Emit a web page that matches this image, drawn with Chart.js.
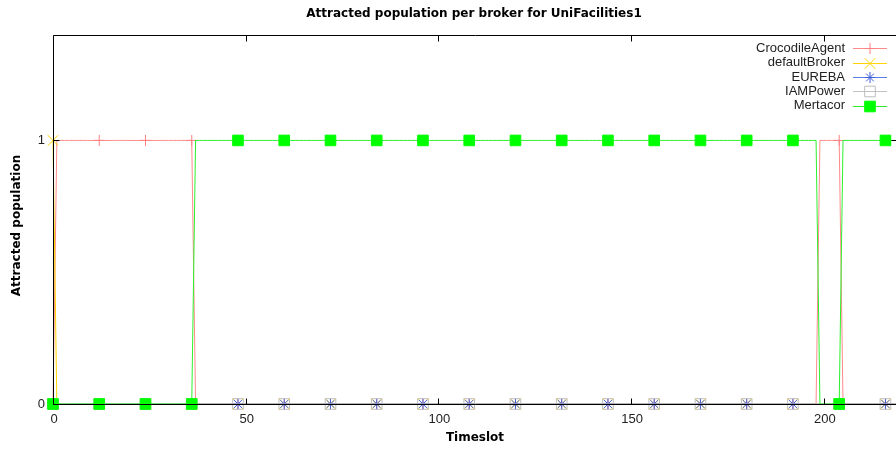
<!DOCTYPE html>
<html>
<head>
<meta charset="utf-8">
<script src="https://cdn.jsdelivr.net/npm/chart.js@4.4.1/dist/chart.umd.min.js"></script>
<style>
  html, body { margin: 0; padding: 0; background: #fff; overflow: hidden; width: 896px; height: 450px; }
  canvas { display: block; }
</style>
</head>
<body>
<canvas id="chart" width="948" height="450"></canvas>
<script>
// ---- text ----
const chartTitle = 'Attracted population per broker for UniFacilities1';
const xAxisTitle = 'Timeslot';
const yAxisTitle = 'Attracted population';

// ---- categories and ticks ----
const brokers = ['CrocodileAgent', 'defaultBroker', 'EUREBA', 'IAMPower', 'Mertacor'];
const xTickValues = [0, 50, 100, 150, 200];
const yTickValues = [0, 1];
const xMax = 219;
const yMax = 1.4;

// ---- attracted population per timeslot (timeslots 0..219), one digit per timeslot, ten per group ----
const crocodileAgent =
  '0111111111 1111111111 1111111111 1111111000 0000000000 0000000000 ' +
  '0000000000 0000000000 0000000000 0000000000 0000000000 0000000000 ' +
  '0000000000 0000000000 0000000000 0000000000 0000000000 0000000000 ' +
  '0000000000 0000000001 1111100000 0000000000';
const defaultBroker =
  '1000000000 0000000000 0000000000 0000000000 0000000000 0000000000 ' +
  '0000000000 0000000000 0000000000 0000000000 0000000000 0000000000 ' +
  '0000000000 0000000000 0000000000 0000000000 0000000000 0000000000 ' +
  '0000000000 0000000000 0000000000 0000000000';
const eureba =
  '0000000000 0000000000 0000000000 0000000000 0000000000 0000000000 ' +
  '0000000000 0000000000 0000000000 0000000000 0000000000 0000000000 ' +
  '0000000000 0000000000 0000000000 0000000000 0000000000 0000000000 ' +
  '0000000000 0000000000 0000000000 0000000000';
const iamPower =
  '0000000000 0000000000 0000000000 0000000000 0000000000 0000000000 ' +
  '0000000000 0000000000 0000000000 0000000000 0000000000 0000000000 ' +
  '0000000000 0000000000 0000000000 0000000000 0000000000 0000000000 ' +
  '0000000000 0000000000 0000000000 0000000000';
const mertacor =
  '0000000000 0000000000 0000000000 0000000111 1111111111 1111111111 ' +
  '1111111111 1111111111 1111111111 1111111111 1111111111 1111111111 ' +
  '1111111111 1111111111 1111111111 1111111111 1111111111 1111111111 ' +
  '1111111111 1111111110 0000011111 1111111111';

const seriesText = [crocodileAgent, defaultBroker, eureba, iamPower, mertacor];
const parseSeries = s => s.replace(/\s+/g, '').split('').map(Number);

// ---- look of each series (line colour, marker) ----
const looks = [
  { line: '#ff8a8a', mark: '#ff8080', fill: 'rgba(0,0,0,0)', style: 'cross',    radius: 5.5 },
  { line: '#ffd400', mark: '#ffd000', fill: 'rgba(0,0,0,0)', style: 'crossRot', radius: 7.5 },
  { line: '#5f7fe8', mark: '#3f5fd8', fill: 'rgba(0,0,0,0)', style: 'star',     radius: 5.5 },
  { line: '#c2c2c2', mark: '#bdbdbd', fill: 'rgba(0,0,0,0)', style: 'rect',     radius: 7.5 },
  { line: '#2cf02c', mark: '#00ff00', fill: '#00ff00',        style: 'rect',     radius: 7.5 }
];
const markEvery = 12;

const datasets = brokers.map((name, k) => {
  const values = parseSeries(seriesText[k]);
  const lk = looks[k];
  return {
    label: name,
    data: values.map((v, t) => ({ x: t, y: v })),
    borderColor: lk.line,
    borderWidth: 1,
    tension: 0,
    fill: false,
    clip: false,
    order: brokers.length - 1 - k,
    pointStyle: lk.style,
    pointBorderColor: lk.mark,
    pointBackgroundColor: lk.fill,
    pointBorderWidth: 1,
    pointRadius: c => (c.dataIndex % markEvery === 0 ? lk.radius : 0),
    pointHoverRadius: c => (c.dataIndex % markEvery === 0 ? lk.radius : 0)
  };
});

const tickFont = '13px "Liberation Sans", Arial, sans-serif';
const titleFont = 'bold 12px "DejaVu Sans", Verdana, sans-serif';

// Frame, inward ticks, labels, titles and key, drawn the gnuplot way.
const gnuplotFrame = {
  id: 'gnuplotFrame',
  afterDatasetsDraw(chart) {
    const { ctx, chartArea: a, scales: { x, y } } = chart;
    ctx.save();
    ctx.strokeStyle = '#000';
    ctx.lineWidth = 1;
    const L = a.left + 0.5, R = a.right + 0.5, T = a.top + 0.5, B = a.bottom + 0.5;
    ctx.beginPath();
    ctx.rect(L, T, R - L, B - T);
    ctx.stroke();

    const tl = 6;
    ctx.beginPath();
    xTickValues.forEach(v => {
      const px = Math.round(x.getPixelForValue(v)) + 0.5;
      ctx.moveTo(px, B); ctx.lineTo(px, B - tl);
      ctx.moveTo(px, T); ctx.lineTo(px, T + tl);
    });
    yTickValues.forEach(v => {
      const py = Math.round(y.getPixelForValue(v)) + 0.5;
      ctx.moveTo(L, py); ctx.lineTo(L + tl, py);
      ctx.moveTo(R, py); ctx.lineTo(R - tl, py);
    });
    ctx.stroke();

    ctx.fillStyle = '#222';
    ctx.font = tickFont;
    ctx.textAlign = 'center';
    ctx.textBaseline = 'middle';
    xTickValues.forEach(v => ctx.fillText(String(v), x.getPixelForValue(v) + 1, a.bottom + 15));
    ctx.textAlign = 'right';
    yTickValues.forEach(v => ctx.fillText(String(v), a.left - 8, y.getPixelForValue(v)));

    // titles
    ctx.fillStyle = '#000';
    ctx.font = titleFont;
    ctx.textAlign = 'center';
    ctx.textBaseline = 'middle';
    ctx.fillText(chartTitle, chart.width / 2, 13.5);
    ctx.fillText(xAxisTitle, (a.left + a.right) / 2, 438);
    ctx.save();
    ctx.translate(17, (a.top + a.bottom) / 2 + 6);
    ctx.rotate(-Math.PI / 2);
    ctx.fillText(yAxisTitle, 0, 0);
    ctx.restore();

    // key
    const textRight = a.right - 52;
    const sx0 = a.right - 44, sx1 = a.right - 10;
    const rowTop = a.top + 13.3, rowStep = 14.35;
    ctx.font = tickFont;
    brokers.forEach((name, k) => {
      const lk = looks[k];
      const ry = rowTop + k * rowStep;
      ctx.fillStyle = '#222';
      ctx.textAlign = 'right';
      ctx.textBaseline = 'middle';
      ctx.fillText(name, textRight, ry);
      const ly = Math.round(ry) + 0.5;
      ctx.strokeStyle = lk.line;
      ctx.lineWidth = 1;
      ctx.beginPath();
      ctx.moveTo(sx0, ly); ctx.lineTo(sx1, ly);
      ctx.stroke();
      ctx.strokeStyle = lk.mark;
      ctx.fillStyle = lk.fill;
      Chart.helpers.drawPoint(ctx, { pointStyle: lk.style, radius: lk.radius, rotation: 0, borderWidth: 1 },
        (sx0 + sx1) / 2, ly);
    });
    ctx.restore();
  }
};

new Chart(document.getElementById('chart'), {
  type: 'line',
  data: { datasets },
  options: {
    responsive: false,
    animation: false,
    events: [],
    devicePixelRatio: 1,
    layout: { padding: { left: 53, right: 51, top: 35, bottom: 46 } },
    plugins: { legend: { display: false }, title: { display: false }, tooltip: { enabled: false } },
    scales: {
      x: { type: 'linear', min: 0, max: xMax, display: false },
      y: { type: 'linear', min: 0, max: yMax, display: false }
    }
  },
  plugins: [gnuplotFrame]
});
</script>
</body>
</html>
